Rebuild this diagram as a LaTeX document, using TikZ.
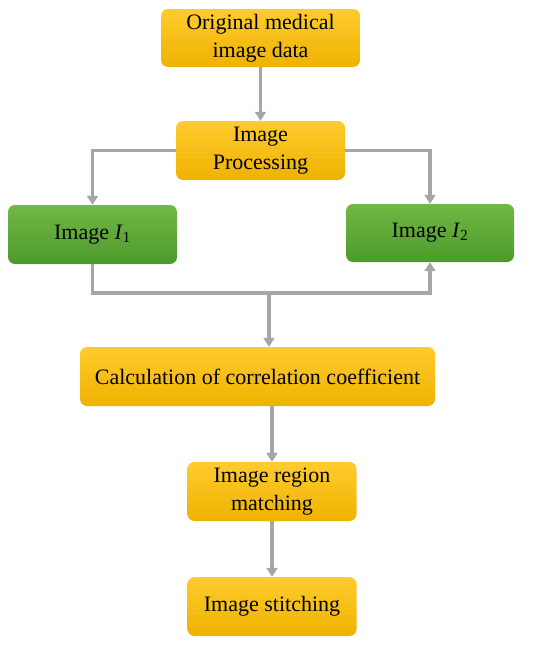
\documentclass[tikz,border=0pt]{standalone}
\usepackage{fontspec}
\setmainfont{Liberation Serif}
\usetikzlibrary{arrows.meta}
\definecolor{ytop}{HTML}{FFCB2E}
\definecolor{ybot}{HTML}{EEB200}
\definecolor{gtop}{HTML}{72B844}
\definecolor{gbot}{HTML}{4C9A2C}
\definecolor{conn}{HTML}{A6A6A6}
\tikzset{
  ybox/.style={rounded corners=7pt, top color=ytop, bottom color=ybot, draw=none,
    align=center, inner sep=0pt, font=\fontsize{22}{28}\selectfont, text=black},
  gbox/.style={rounded corners=7pt, top color=gtop, bottom color=gbot, draw=none,
    align=center, inner sep=0pt, font=\fontsize{22}{28}\selectfont, text=black},
  conn/.style={draw=conn, line width=3.3pt, -{Triangle[width=11pt,length=9pt]}}
}
\begin{document}
\begin{tikzpicture}[x=1pt,y=-1pt]
\useasboundingbox (0,0) rectangle (550,645);
\node[ybox, minimum width=199pt, minimum height=58pt] (orig) at (260.5,38) {Original medical\\image data};
\node[ybox, minimum width=169pt, minimum height=59pt] (proc) at (260.5,150.5) {Image\\Processing};
\node[gbox, minimum width=169pt, minimum height=59pt] (i1) at (92.5,234.5) {Image \textit{I}\textsubscript{1}};
\node[gbox, minimum width=168pt, minimum height=58pt] (i2) at (430,233) {Image \textit{I}\textsubscript{2}};
\node[ybox, minimum width=355pt, minimum height=59pt] (calc) at (257.5,376.5) {Calculation of correlation coefficient};
\node[ybox, minimum width=169pt, minimum height=59pt] (reg) at (272,491.5) {Image region\\matching};
\node[ybox, minimum width=169pt, minimum height=59pt] (sti) at (272,606.5) {Image stitching};
\coordinate (j) at (269,293);
\draw[conn] (orig.south) -- (proc.north);
\draw[conn] (proc.west) -| (i1.north);
\draw[conn] (proc.east) -| (i2.north);
\draw[conn] (i1.south) |- (j) -| (i2.south);
\draw[conn] (j) -- (j |- calc.north);
\draw[conn] (calc.south -| reg.north) -- (reg.north);
\draw[conn] (reg.south) -- (sti.north);
\end{tikzpicture}
\end{document}
